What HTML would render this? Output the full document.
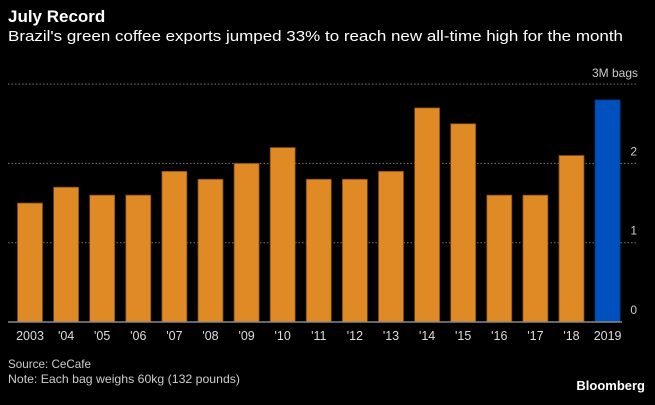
<!DOCTYPE html>
<html><head><meta charset="utf-8"><style>
body{margin:0;background:#000;width:655px;height:400px;overflow:hidden;font-family:"Liberation Sans",sans-serif}
</style></head><body>
<svg width="655" height="400" xmlns="http://www.w3.org/2000/svg">
<text x="8" y="22" fill="#fff" font-size="17" font-weight="bold">July Record</text>
<text x="8" y="41" fill="#fff" font-size="14.5" textLength="615" lengthAdjust="spacingAndGlyphs">Brazil's green coffee exports jumped 33% to reach new all-time high for the month</text>
<text x="638" y="77" fill="#ccc" font-size="12" text-anchor="end">3M bags</text>
<g id="grid"></g>
<g id="bars"></g>
<g id="xlabels"></g>
<line x1="8" x2="622" y1="322" y2="322" stroke="#888" stroke-width="1.5"/>
<text x="8" y="368" fill="#ccc" font-size="12" textLength="83" lengthAdjust="spacingAndGlyphs">Source: CeCafe</text>
<text x="8" y="383" fill="#ccc" font-size="12" textLength="232" lengthAdjust="spacingAndGlyphs">Note: Each bag weighs 60kg (132 pounds)</text>
<text x="645" y="390" fill="#fff" font-size="13" font-weight="bold" text-anchor="end">Bloomberg</text>
</svg>
<script>
const categories=["2003","'04","'05","'06","'07","'08","'09","'10","'11","'12","'13","'14","'15","'16","'17","'18","2019"];
const values=[1.5,1.7,1.6,1.6,1.9,1.8,2.0,2.2,1.8,1.8,1.9,2.7,2.5,1.6,1.6,2.1,2.8];
const yTicks=[0,1,2,3];
const ns="http://www.w3.org/2000/svg";
const y=v=>322-v*79.3;
const x=i=>30+i*36.1;
const grid=document.getElementById('grid');
yTicks.forEach(t=>{
  if(t>0){const l=document.createElementNS(ns,'line');
  l.setAttribute('x1',8);l.setAttribute('x2',638);l.setAttribute('y1',y(t));l.setAttribute('y2',y(t));
  l.setAttribute('stroke','#777');l.setAttribute('stroke-dasharray','1.5,2');
  
  
  grid.appendChild(l);}
  if(t<3){const tx=document.createElementNS(ns,'text');
  tx.setAttribute('x',637);tx.setAttribute('y',y(t)-8);tx.setAttribute('fill','#ccc');tx.setAttribute('font-size','12');tx.setAttribute('text-anchor','end');
  tx.textContent=t;
  
  
  grid.appendChild(tx);}
});
const bars=document.getElementById('bars'),xl=document.getElementById('xlabels');
values.forEach((v,i)=>{
  const r=document.createElementNS(ns,'rect');
  const last=i===values.length-1;
  r.setAttribute('x',x(i)-12.5);r.setAttribute('width',25);r.setAttribute('y',y(v));r.setAttribute('height',322-y(v));
  r.setAttribute('fill',last?'#0051bd':'#e08a26');r.setAttribute('stroke',last?'#003a8a':'#7a4a10');r.setAttribute('stroke-width','0.8');
  
  
  bars.appendChild(r);
  const t=document.createElementNS(ns,'text');
  t.setAttribute('x',x(i));t.setAttribute('y',340);t.setAttribute('fill','#ddd');t.setAttribute('font-size','12.5');t.setAttribute('text-anchor','middle');
  t.textContent=categories[i];
  
  
  xl.appendChild(t);
});
</script>
</body></html>
